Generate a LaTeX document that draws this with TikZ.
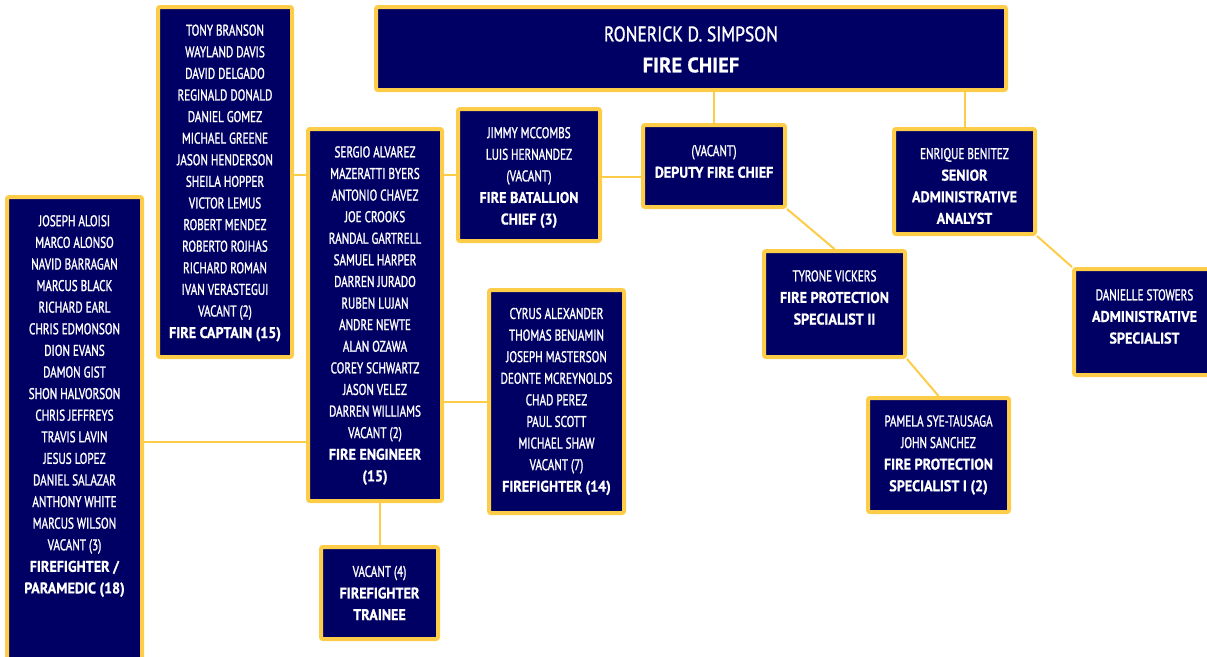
\documentclass[tikz,border=0pt]{standalone}
\usepackage{fontspec}
\setmainfont{PT Sans}[UprightFeatures={FakeStretch=0.72,FakeBold=1.3},BoldFeatures={FakeStretch=0.91,FakeBold=0.8}]
\newfontfamily\chieffont{PT Sans}[UprightFeatures={FakeStretch=0.833,FakeBold=1.3},BoldFeatures={FakeStretch=0.98,FakeBold=0.8}]
\definecolor{navy}{RGB}{0,0,100}
\definecolor{gold}{RGB}{253,204,72}
\tikzset{
  box/.style={draw=gold, fill=navy, line width=4pt, rounded corners=2pt, inner sep=0pt, rectangle},
  txt/.style={text=white, align=center, inner sep=0pt, font=\fontsize{15.5}{21.6}\selectfont},
  bigtxt/.style={text=white, align=center, inner sep=0pt, font=\chieffont\fontsize{21}{31}\selectfont},
  link/.style={draw=gold, line width=2pt},
}
\newcommand\obox[5]{%
  \pgfmathsetmacro\bw{#4-#2-4}\pgfmathsetmacro\bh{#5-#3-4}%
  \pgfmathsetmacro\bx{(#2+#4)/2}\pgfmathsetmacro\by{(#3+#5)/2}%
  \node[box, minimum width=\bw pt, minimum height=\bh pt] (#1) at (\bx,\by) {};}
\begin{document}
\begin{tikzpicture}[x=1pt,y=-1pt]
\useasboundingbox (0,0) rectangle (1207,656);
\clip (0,0) rectangle (1207,656);
% boxes
\obox{chief}{374}{5}{1008}{92}
\obox{captain}{156}{5}{294}{359}
\obox{battalion}{456}{107}{602}{243}
\obox{deputy}{641}{123}{787}{209}
\obox{senior}{892}{127}{1037}{236}
\obox{engineer}{306}{127}{444}{503}
\obox{paramedic}{5}{195}{144}{666}
\obox{firefighter}{487}{288}{626}{515}
\obox{fpstwo}{762}{249}{907}{359}
\obox{danielle}{1072}{267}{1217}{377}
\obox{fpsone}{866}{396}{1011}{514}
\obox{trainee}{319}{545}{440}{641}
\coordinate (pmline) at (0,442);
\coordinate (dbline) at (0,177);
% connectors
\draw[link] (deputy.north) -- (deputy.north |- chief.south);
\draw[link] (senior.north) -- (senior.north |- chief.south);
\draw[link] (deputy.west |- dbline) -- (battalion.east |- dbline);
\draw[link] (battalion.west) -- (engineer.east |- battalion.west);
\draw[link] (engineer.west |- battalion.west) -- (captain.east |- battalion.west);
\draw[link] (engineer.west |- pmline) -- (paramedic.east |- pmline);
\draw[link] (firefighter.west) -- (engineer.east |- firefighter.west);
\draw[link] (trainee.north) -- (trainee.north |- engineer.south);
\draw[link] (deputy.south east) -- (fpstwo.north);
\draw[link] (fpstwo.south east) -- (fpsone.north);
\draw[link] (senior.south east) -- (danielle.north west);
% texts
\node[bigtxt] (chieftxt) at (691,49.5) {RONERICK D. SIMPSON\\\textbf{FIRE CHIEF}};
\node[txt] (captaintxt) at (225,183) {TONY BRANSON\\WAYLAND DAVIS\\DAVID DELGADO\\REGINALD DONALD\\DANIEL GOMEZ\\MICHAEL GREENE\\JASON HENDERSON\\SHEILA HOPPER\\VICTOR LEMUS\\ROBERT MENDEZ\\ROBERTO ROJHAS\\RICHARD ROMAN\\IVAN VERASTEGUI\\VACANT (2)\\\textbf{FIRE CAPTAIN (15)}};
\node[txt] (battaliontxt) at (529,177.5) {JIMMY MCCOMBS\\LUIS HERNANDEZ\\(VACANT)\\\textbf{FIRE BATALLION}\\\textbf{CHIEF (3)}};
\node[txt] (deputytxt) at (714,161.5) {(VACANT)\\\textbf{DEPUTY FIRE CHIEF}};
\node[txt] (seniortxt) at (964.5,186) {ENRIQUE BENITEZ\\\textbf{SENIOR}\\\textbf{ADMINISTRATIVE}\\\textbf{ANALYST}};
\node[txt] (engineertxt) at (375,315.5) {SERGIO ALVAREZ\\MAZERATTI BYERS\\ANTONIO CHAVEZ\\JOE CROOKS\\RANDAL GARTRELL\\SAMUEL HARPER\\DARREN JURADO\\RUBEN LUJAN\\ANDRE NEWTE\\ALAN OZAWA\\COREY SCHWARTZ\\JASON VELEZ\\DARREN WILLIAMS\\VACANT (2)\\\textbf{FIRE ENGINEER}\\\textbf{(15)}};
\node[txt] (paramedictxt) at (74.5,406) {JOSEPH ALOISI\\MARCO ALONSO\\NAVID BARRAGAN\\MARCUS BLACK\\RICHARD EARL\\CHRIS EDMONSON\\DION EVANS\\DAMON GIST\\SHON HALVORSON\\CHRIS JEFFREYS\\TRAVIS LAVIN\\JESUS LOPEZ\\DANIEL SALAZAR\\ANTHONY WHITE\\MARCUS WILSON\\VACANT (3)\\\textbf{FIREFIGHTER /}\\\textbf{PARAMEDIC (18)}};
\node[txt] (firefightertxt) at (556.5,401.5) {CYRUS ALEXANDER\\THOMAS BENJAMIN\\JOSEPH MASTERSON\\DEONTE MCREYNOLDS\\CHAD PEREZ\\PAUL SCOTT\\MICHAEL SHAW\\VACANT (7)\\\textbf{FIREFIGHTER (14)}};
\node[txt] (fpstwotxt) at (834.5,297.5) {TYRONE VICKERS\\\textbf{FIRE PROTECTION}\\\textbf{SPECIALIST II}};
\node[txt] (daniellettxt) at (1144.5,316.5) {DANIELLE STOWERS\\\textbf{ADMINISTRATIVE}\\\textbf{SPECIALIST}};
\node[txt] (fpsonetxt) at (938.5,455) {PAMELA SYE-TAUSAGA\\JOHN SANCHEZ\\\textbf{FIRE PROTECTION}\\\textbf{SPECIALIST I (2)}};
\node[txt] (traineetxt) at (379.5,593) {VACANT (4)\\\textbf{FIREFIGHTER}\\\textbf{TRAINEE}};
\end{tikzpicture}
\end{document}
